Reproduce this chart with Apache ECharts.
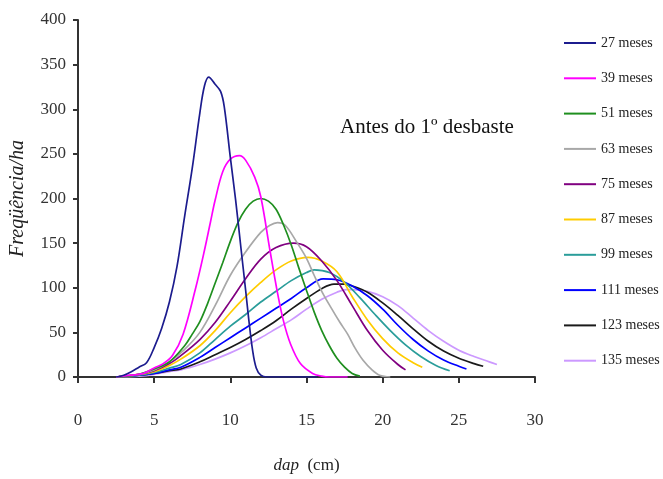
<!DOCTYPE html>
<html>
<head>
<meta charset="utf-8">
<script src="https://cdn.jsdelivr.net/npm/echarts@6/dist/echarts.min.js"></script>
<style>
  html, body { margin: 0; padding: 0; background: #fff; }
  #chart { width: 663px; height: 479px; }
</style>
</head>
<body>
<div id="chart"></div>
<script>
// Diameter distributions (dap, cm  ->  trees per hectare) by stand age
const ages = ['27 meses', '39 meses', '51 meses', '63 meses', '75 meses',
              '87 meses', '99 meses', '111 meses', '123 meses', '135 meses'];

const m27 = [[2.5,0],[3,2],[3.5,6],[4,11],[4.5,16],[5,33],[5.5,55],[6,84],[6.5,124],[7,180],[7.5,234],[8,296],[8.3,326],[8.58,336],[9.0,328],[9.36,320],[9.6,303],[10.0,246],[10.35,198],[10.7,144],[11.0,98],[11.2,66],[11.46,30],[11.7,10],[12.0,2],[12.4,0],[15.7,0]];
const m39 = [[2.5,0],[3.5,2],[4.3,4],[5,10],[5.6,15],[6.2,24],[6.9,48],[7.7,98],[8.25,138],[8.7,174],[9.0,198],[9.5,230],[10.0,244],[10.6,248],[11.0,243],[11.6,224],[12.0,202],[12.6,142],[13.1,94],[13.5,62],[13.95,37],[14.6,15],[15.4,4],[16,1],[16.5,0],[17.7,0]];
const m51 = [[2.5,0],[4,3],[5,9],[6,17],[7,35],[7.5,48],[8,62],[8.5,82],[9,105],[9.5,128],[10,152],[10.5,173],[11,188],[11.5,197],[12,200],[12.5,197],[13,188],[13.5,170],[14,148],[14.5,122],[15,97],[15.5,73],[16,52],[16.5,35],[17,21],[17.5,11],[18,4],[18.5,1]];
const m63 = [[2.5,0],[4,3],[5,8],[6,17],[7,31],[8,50],[9,80],[10,114],[11,140],[12,162],[12.6,170],[13.1,173],[13.6,170],[14.4,150],[15,133],[15.5,114],[16,96],[16.6,78],[17.2,61],[17.7,48],[18.2,32],[18.7,19],[19.3,8],[19.8,2],[20.5,0]];
const m75 = [[2.5,0],[4,3],[5,7],[6,15],[6.75,24],[8,42],[9,61],[10,85],[11,110],[12,132],[13,145],[14.15,150],[15,146],[16,130],[17,108],[18,80],[19,52],[20,30],[21,14],[21.5,8]];
const m87 = [[2.5,0],[4,3],[5,6],[6,13],[6.75,20],[8,35],[9,52],[10,72],[11,90],[12,106],[13,120],[14,130],[15.1,134],[16,130],[17,118],[18,90],[19,64],[20,43],[21,27],[22,16],[22.6,11]];
const m99 = [[2.5,0],[4,2],[5,5],[6,10],[6.75,14],[8,27],[9,42],[10,57],[11,70],[12,84],[13,96],[14,108],[15,117],[15.5,120],[16.5,117],[17.5,106],[18.5,89],[19.5,70],[20.5,52],[21.5,36],[22.5,23],[23.5,13],[24.4,7]];
const m111 = [[2.5,0],[4,2],[5,4],[6,8],[6.75,11],[8,22],[9,33],[10,44],[11,55],[12,66],[13,77],[14,88],[15,100],[16.1,110],[17,109],[18,102],[19,91],[20,76],[21,58],[22,42],[23,29],[24,19],[25,12],[25.5,9]];
const m123 = [[2.5,0],[4,2],[5,4],[6,7],[6.75,9],[8,17],[9,25],[10,33],[11,42],[12,52],[13,63],[14,76],[15,88],[16,99],[16.8,104],[17.5,104],[18,102],[19,95],[20,83],[21,69],[22,54],[23,40],[24,29],[25,21],[26,15],[26.6,12]];
const m135 = [[2.5,0],[4,1],[5,3],[6,6],[6.75,8],[8,14],[9,20],[10,27],[11,35],[12,44],[13,54],[14,64],[15,76],[16,87],[17,95],[17.6,98],[18,98],[19,96],[20,90],[21,80],[22,66],[23,52],[24,40],[25,30],[26,23],[27,17],[27.5,14]];

const seriesData = [m27, m39, m51, m63, m75, m87, m99, m111, m123, m135];
const colors = ['#1c1c8e', '#ff00ff', '#1f8f1f', '#a8a8a8', '#800080',
                '#ffcc00', '#2a9d9a', '#0000ff', '#1a1a1a', '#cc99ff'];

const xTicks = [0, 5, 10, 15, 20, 25, 30];
const yTicks = [0, 50, 100, 150, 200, 250, 300, 350, 400];

const serif = '"Liberation Serif", "DejaVu Serif", serif';

const chart = echarts.init(document.getElementById('chart'), null, { renderer: 'canvas' });

chart.setOption({
  animation: false,
  color: colors,
  grid: { left: 77, right: 128, top: 20, bottom: 95, containLabel: false },
  title: {
    text: 'Antes do 1º desbaste',
    left: 335, top: 112,
    textStyle: { fontFamily: serif, fontSize: 21, fontWeight: 'normal', color: '#111' }
  },
  legend: {
    orient: 'vertical',
    left: 563, top: 36, padding: 0,
    itemWidth: 32, itemHeight: 14, itemGap: 21.3,
    itemStyle: { opacity: 0 },
    textStyle: { fontFamily: serif, fontSize: 14, color: '#222' },
    data: ages
  },
  xAxis: {
    type: 'value',
    min: xTicks[0], max: xTicks[xTicks.length - 1], interval: 5,
    name: '{i|dap}  (cm)',
    nameLocation: 'middle', nameGap: 80,
    nameTextStyle: {
      fontFamily: serif, fontSize: 17, color: '#222',
      rich: { i: { fontFamily: serif, fontSize: 17, fontStyle: 'italic', color: '#222' } }
    },
    axisLine: { show: true, onZero: false, lineStyle: { color: '#333', width: 2 } },
    axisTick: { show: true, length: 6, inside: false, lineStyle: { color: '#333', width: 2 } },
    axisLabel: { margin: 35, fontFamily: serif, fontSize: 17, color: '#333' },
    splitLine: { show: false }
  },
  yAxis: {
    type: 'value',
    min: yTicks[0], max: yTicks[yTicks.length - 1], interval: 50,
    name: 'Freqüência/ha',
    nameLocation: 'middle', nameGap: 50,
    nameTextStyle: { fontFamily: serif, fontSize: 20, fontStyle: 'italic', color: '#222' },
    axisLine: { show: true, lineStyle: { color: '#333', width: 2 } },
    axisTick: { show: true, length: 5, inside: false, lineStyle: { color: '#333', width: 2 } },
    axisLabel: { margin: 12, fontFamily: serif, fontSize: 17, color: '#333' },
    splitLine: { show: false }
  },
  series: seriesData.map((d, i) => ({
    name: ages[i],
    type: 'line',
    data: d,
    smooth: 0.35,
    symbol: 'none',
    lineStyle: { width: 1.7, color: colors[i] },
    z: 10 - i
  }))
});
</script>
</body>
</html>
